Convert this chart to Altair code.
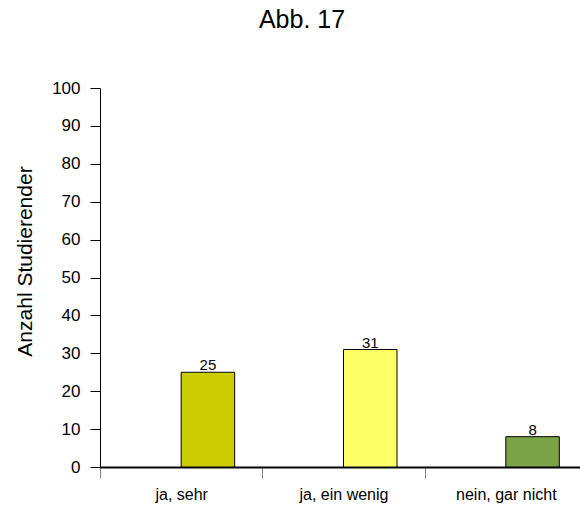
import altair as alt
import pandas as pd

# Survey answers and counts
categories = ["ja, sehr", "ja, ein wenig", "nein, gar nicht"]
counts = [25, 31, 8]
bar_colors = ["#CCCC00", "#FFFF66", "#7AA445"]
y_ticks = [0, 10, 20, 30, 40, 50, 60, 70, 80, 90, 100]

df = pd.DataFrame({"antwort": categories, "anzahl": counts})

FONT = "Liberation Sans"
BAND = 162.33          # width of one category band in px
BAR_W = 53.5           # bar width in px
SHIFT = BAR_W / 2      # bars start at the band centre

x_enc = alt.X(
    "antwort:N",
    sort=categories,
    scale=alt.Scale(paddingInner=0, paddingOuter=0, range=[0, 3 * BAND]),
    axis=alt.Axis(
        title=None,
        domainColor="black",
        domainWidth=2,
        tickColor="#808080",
        tickSize=11,
        tickWidth=1,
        tickOffset=-BAND / 2,
        labelOffset=BAND / 2,
        labelAngle=0,
        labelFont=FONT,
        labelFontSize=16,
        labelColor="black",
        labelPadding=8,
    ),
)

y_enc = alt.Y(
    "anzahl:Q",
    scale=alt.Scale(domain=[0, 100], nice=False),
    axis=alt.Axis(
        title="Anzahl Studierender",
        values=y_ticks,
        grid=False,
        domainColor="black",
        tickColor="black",
        tickSize=10,
        labelFont=FONT,
        labelFontSize=17,
        labelColor="black",
        labelPadding=10,
        titleFont=FONT,
        titleFontSize=21,
        titleFontWeight="normal",
        titleColor="black",
        titleAngle=270,
        titleBaseline="middle",
        titleX=-75,
        titleY=173,
    ),
)

color_enc = alt.Color(
    "antwort:N",
    scale=alt.Scale(domain=categories, range=bar_colors),
    legend=None,
)

bars = alt.Chart(df).mark_bar(
    size=BAR_W, xOffset=SHIFT, stroke="black", strokeWidth=1
).encode(x=x_enc, y=y_enc, color=color_enc)

labels = alt.Chart(df).mark_text(
    xOffset=SHIFT, baseline="bottom", dy=1, font=FONT, fontSize=15, color="black"
).encode(x=x_enc, y=y_enc, text="anzahl:Q")

chart = (
    alt.layer(bars, labels)
    .properties(
        width=480,
        height=379,
        background="white",
        title=alt.TitleParams(
            "Abb. 17",
            font=FONT,
            fontSize=25,
            fontWeight="normal",
            color="black",
            anchor="middle",
            frame="group",
            dx=-38,
            offset=46,
        ),
        autosize=alt.AutoSizeParams(type="none"),
        padding={"left": 100, "top": 88, "right": 0, "bottom": 43},
    )
    .configure_view(strokeWidth=0, stroke="transparent")
)

chart.save("out.html", embed_options={"renderer": "svg", "actions": False})
